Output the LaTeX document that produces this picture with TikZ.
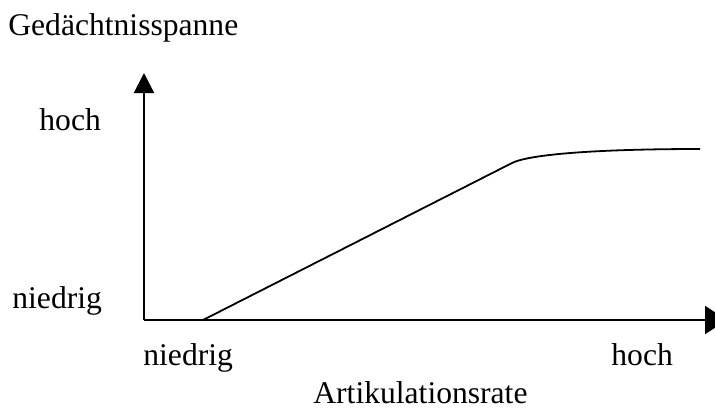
\documentclass[tikz,border=0pt]{standalone}
\usepackage{fontspec}
\setmainfont{Liberation Serif}
\usepackage{tikz}
\usetikzlibrary{arrows.meta,positioning,calc}
\tikzset{
	axis line/.style={line width=1pt},
	graph line/.style={line width=0.9pt},
	axis text/.style={inner sep=0pt,anchor=base west,font=\fontsize{15.8}{18}\selectfont},
}
\begin{document}
\begin{tikzpicture}[x=0.5pt,y=-0.5pt]
	\useasboundingbox (0,0) rectangle (715,407);
	% labels
	\node[axis text] (ylabel) at (8,35) {Gedächtnisspanne};
	\node[axis text] (yhigh) at (39,130) {hoch};
	\node[axis text] (ylow) at (12,308) {niedrig};
	\node[axis text] (xlow) at (143,365) {niedrig};
	\node[axis text] (xhigh) at (611,365) {hoch};
	\node[axis text] (xlabel) at (313,403) {Artikulationsrate};
	% axes
	\coordinate (origin) at (144,320);
	\coordinate (ytip) at (144,73);
	\coordinate (xtip) at (727,320);
	\draw[axis line,-{Triangle[length=10pt,width=10pt]}] (origin) -- (ytip);
	\draw[axis line,-{Triangle[length=11pt,width=14pt]}] (origin) -- (xtip);
	% curve
	\coordinate (start) at (203,320);
	\coordinate (knee) at (512,163);
	\coordinate (plateau) at (700,149);
	\draw[graph line] (start) -- (knee) .. controls (530,154) and (600,149) .. (plateau);
\end{tikzpicture}
\end{document}
